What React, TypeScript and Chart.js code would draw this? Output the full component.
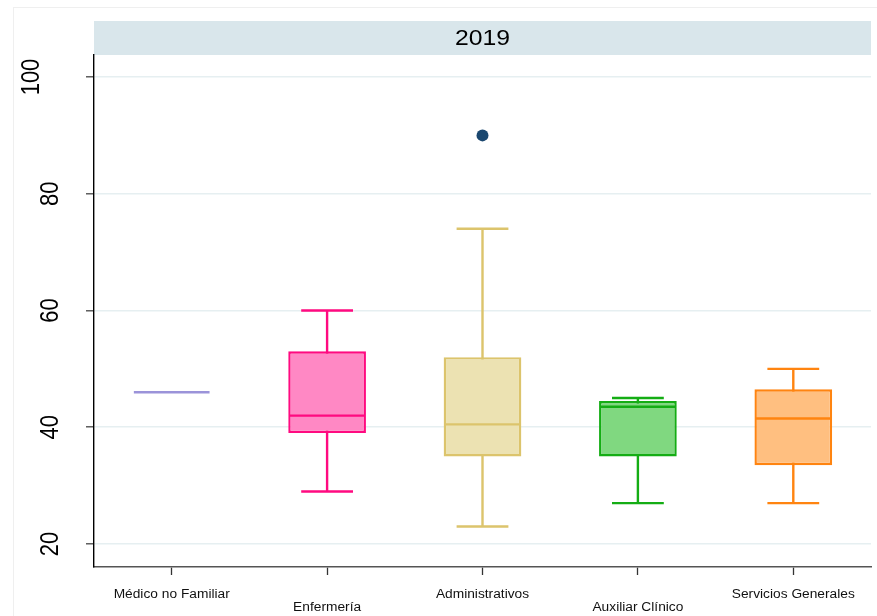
import React, { useEffect, useRef } from "react";
import { Chart, registerables } from "chart.js";

Chart.register(...registerables);

// Categories (x axis) and box-plot summaries per category
const categories = [
  "Médico no Familiar",
  "Enfermería",
  "Administrativos",
  "Auxiliar Clínico",
  "Servicios Generales",
];
const whiskerLow = [46, 29, 23, 27, 27];
const q1 = [46, 39, 35, 35, 33.5];
const median = [46, 42, 40.5, 43.5, 41.5];
const q3 = [46, 53, 52, 44.5, 46.5];
const whiskerHigh = [46, 60, 74, 45, 50];
const outliers: (number | null)[] = [null, null, 90, null, null];

const yTicks = [20, 40, 60, 80, 100];
const panelTitle = "2019";

const strokeColors = ["#9b93d9", "#ff0a80", "#dcc46c", "#14ad14", "#ff8410"];
const fillColors = ["#b9b2e6", "#ff88c4", "#ece2b2", "#80d880", "#ffbf80"];

const FONT = "'Liberation Sans', Arial, Helvetica, sans-serif";
const LINE_W = 2.4;

const boxPlotPlugin = {
  id: "boxPlotParts",
  beforeDraw(chart: any) {
    const { ctx, chartArea } = chart;
    ctx.save();
    // faint outer frame
    ctx.strokeStyle = "#efefef";
    ctx.lineWidth = 1;
    ctx.strokeRect(13.5, 7.5, 900, 700);
    // header band
    ctx.fillStyle = "#d9e6eb";
    ctx.fillRect(chartArea.left, 21, chartArea.right - chartArea.left, chartArea.top - 21);
    ctx.fillStyle = "#000";
    ctx.font = `21.5px ${FONT}`;
    ctx.textAlign = "center";
    ctx.textBaseline = "alphabetic";
    ctx.translate((chartArea.left + chartArea.right) / 2, 44.5);
    ctx.scale(1.15, 1);
    ctx.fillText(panelTitle, 0, 0);
    ctx.restore();
  },
  beforeDatasetsDraw(chart: any) {
    const { ctx } = chart;
    const xs = chart.scales.x;
    const ys = chart.scales.y;
    const catW = xs.width / categories.length;
    ctx.save();
    ctx.lineWidth = LINE_W;
    categories.forEach((_, i) => {
      if (whiskerLow[i] === whiskerHigh[i]) return;
      const cx = xs.getPixelForValue(i);
      const half = catW / 6;
      const yl = ys.getPixelForValue(whiskerLow[i]);
      const yh = ys.getPixelForValue(whiskerHigh[i]);
      ctx.strokeStyle = strokeColors[i];
      ctx.beginPath();
      ctx.moveTo(cx, yl);
      ctx.lineTo(cx, yh);
      ctx.moveTo(cx - half, yl);
      ctx.lineTo(cx + half, yl);
      ctx.moveTo(cx - half, yh);
      ctx.lineTo(cx + half, yh);
      ctx.stroke();
    });
    ctx.restore();
  },
  afterDatasetsDraw(chart: any) {
    const { ctx } = chart;
    const xs = chart.scales.x;
    const ys = chart.scales.y;
    const catW = xs.width / categories.length;
    ctx.save();
    ctx.lineWidth = LINE_W;
    categories.forEach((_, i) => {
      const cx = xs.getPixelForValue(i);
      const half = catW / 4 - 1;
      const ym = ys.getPixelForValue(median[i]);
      ctx.strokeStyle = strokeColors[i];
      ctx.beginPath();
      ctx.moveTo(cx - half, ym);
      ctx.lineTo(cx + half, ym);
      ctx.stroke();
    });
    ctx.restore();
  },
  afterDraw(chart: any) {
    const { ctx } = chart;
    const xs = chart.scales.x;
    const ys = chart.scales.y;
    ctx.save();
    ctx.fillStyle = "#000";
    ctx.textBaseline = "alphabetic";
    ctx.textAlign = "center";
    // y tick labels, rotated to read upwards
    ctx.font = `22px ${FONT}`;
    yTicks.forEach((v) => {
      const label = String(v);
      const y = ys.getPixelForValue(v);
      const bx = 57.5 - (label.length - 2) * 19;
      ctx.save();
      ctx.translate(bx, y);
      ctx.scale(1.14, 1);
      ctx.rotate(-Math.PI / 2);
      ctx.fillText(label, 0, 0);
      ctx.restore();
    });
    // x category labels, alternating rows
    ctx.font = `12.5px ${FONT}`;
    ctx.fillStyle = "#111";
    categories.forEach((c, i) => {
      const x = xs.getPixelForTick(i);
      const y = i % 2 === 0 ? 598 : 611;
      ctx.save();
      ctx.translate(x, y);
      ctx.scale(1.1, 1);
      ctx.fillText(c, 0, 0);
      ctx.restore();
    });
    ctx.restore();
  },
};

export default function App() {
  const canvasRef = useRef<HTMLCanvasElement | null>(null);

  useEffect(() => {
    if (!canvasRef.current) return;
    const boxes = categories.map((_, i) => (q1[i] === q3[i] ? null : [q1[i], q3[i]]));
    const chart = new Chart(canvasRef.current, {
      type: "bar",
      data: {
        labels: categories,
        datasets: [
          {
            type: "line",
            data: outliers,
            showLine: false,
            pointRadius: 6,
            pointHoverRadius: 6,
            pointBackgroundColor: "#1a476f",
            pointBorderColor: "#1a476f",
            pointBorderWidth: 0,
            borderColor: "#1a476f",
          } as any,
          {
            type: "bar",
            data: boxes as any,
            backgroundColor: fillColors,
            borderColor: strokeColors,
            borderWidth: LINE_W,
            borderSkipped: false,
            barPercentage: 0.5,
            categoryPercentage: 1,
          } as any,
        ],
      },
      options: {
        responsive: false,
        animation: false,
        devicePixelRatio: 1,
        layout: { padding: { top: 55, right: 2, left: 0, bottom: 0 } },
        plugins: {
          legend: { display: false },
          tooltip: { enabled: false },
          title: { display: false },
        },
        scales: {
          x: {
            type: "category",
            offset: true,
            grid: {
              offset: false,
              drawOnChartArea: false,
              drawTicks: true,
              tickLength: 8,
              tickColor: "#333",
              tickWidth: 1.3,
            },
            border: { color: "#555", width: 1.6 },
            ticks: { display: false },
            afterFit: (s: any) => {
              s.height = 49;
            },
          },
          y: {
            type: "linear",
            min: 16.06,
            max: 103.77,
            afterBuildTicks: (s: any) => {
              s.ticks = yTicks.map((v) => ({ value: v }));
            },
            grid: {
              color: "#e6eff1",
              lineWidth: 1.6,
              drawTicks: true,
              tickLength: 8,
              tickColor: "#444",
              tickWidth: 1.3,
            },
            border: { color: "#000", width: 1.4 },
            ticks: { display: false },
            afterFit: (s: any) => {
              s.width = 94;
            },
          },
        },
      },
      plugins: [boxPlotPlugin],
    });
    return () => chart.destroy();
  }, []);

  return (
    <div style={{ position: "absolute", left: 0, top: 0, width: 877, height: 616, background: "#fff" }}>
      <canvas ref={canvasRef} width={877} height={616} />
    </div>
  );
}
